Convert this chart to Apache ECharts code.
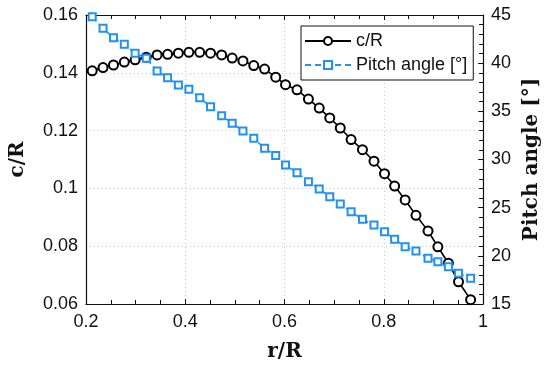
<!DOCTYPE html>
<html>
<head>
<meta charset="utf-8">
<script src="https://cdn.jsdelivr.net/npm/echarts@6/dist/echarts.min.js"></script>
<style>html,body{margin:0;padding:0;background:#fff}#c{width:550px;height:368px}</style>
</head>
<body>
<div id="c"></div>
<script>
const rR = [0.2125, 0.2343, 0.2554, 0.2772, 0.2990, 0.3214, 0.3432, 0.3644, 0.3861, 0.4073,
  0.4291, 0.4509, 0.4733, 0.4945, 0.5162, 0.5380, 0.5598, 0.5822, 0.6020, 0.6251,
  0.6481, 0.6699, 0.6911, 0.7123, 0.7341, 0.7570, 0.7802, 0.8014, 0.8218, 0.8430,
  0.8648, 0.8891, 0.9089, 0.9301, 0.9505, 0.9749];
const cR = [0.1407, 0.1418, 0.1427, 0.1437, 0.1445, 0.1454, 0.1462, 0.1464, 0.1468, 0.1471,
  0.1471, 0.1468, 0.1462, 0.1451, 0.1441, 0.1425, 0.1413, 0.1385, 0.1359, 0.1341,
  0.1309, 0.1278, 0.1244, 0.1209, 0.1169, 0.1134, 0.1094, 0.1051, 0.1008, 0.0960,
  0.0907, 0.0853, 0.0798, 0.0741, 0.0677, 0.0615];
const pitch = [44.82, 43.62, 42.64, 41.96, 41.02, 40.50, 39.19, 38.49, 37.73, 37.29,
  36.41, 35.48, 34.55, 33.76, 32.96, 32.20, 31.16, 30.41, 29.43, 28.63,
  27.70, 26.94, 26.14, 25.38, 24.58, 23.79, 23.20, 22.50, 21.72, 20.95,
  20.50, 19.74, 19.39, 18.87, 18.19, 17.67];
const xTicks = [0.2, 0.4, 0.6, 0.8, 1];
const seriesNames = ['c/R', 'Pitch angle [°]'];

const BLUE = '#2391ee';
const tickFont = {fontFamily: 'Liberation Sans', fontSize: 18, color: '#111'};
const titleFont = {fontFamily: 'DejaVu Serif', fontWeight: 'bold', fontSize: 20, color: '#111'};

const chart = echarts.init(document.getElementById('c'), null, {renderer: 'canvas'});
chart.setOption({
  animation: false,
  backgroundColor: '#fff',
  grid: {left: 83, right: 65, top: 15, bottom: 64},
  legend: {
    orient: 'vertical', left: 301, top: 26,
    backgroundColor: '#fff', borderColor: '#111', borderWidth: 1,
    padding: [6, 6, 6, 3], itemGap: 6, itemWidth: 46, itemHeight: 10,
    textStyle: {fontFamily: 'Liberation Sans', fontSize: 18, color: '#111'},
    data: seriesNames
  },
  xAxis: [{
    type: 'value', min: 0.2, max: 1, interval: 0.2,
    name: 'r/R', nameLocation: 'middle', nameGap: 38, nameTextStyle: titleFont,
    axisLine: {show: true, lineStyle: {color: '#111', width: 1.2}},
    axisTick: {show: true, inside: true, length: 5, lineStyle: {color: '#111'}},
    minorTick: {show: true, splitNumber: 4, length: 4, lineStyle: {color: '#111'}},
    axisLabel: Object.assign({margin: 9, formatter: v => xTicks.includes(+v.toFixed(1)) ? String(+v.toFixed(1)) : ''}, tickFont),
    splitLine: {show: true, lineStyle: {color: '#c8c8c8', type: [1, 3], width: 1}}
  }, {
    type: 'value', min: 0.2, max: 1, interval: 0.2, position: 'top',
    axisLine: {show: true, lineStyle: {color: '#111', width: 1.2}},
    axisTick: {show: true, inside: true, length: 5, lineStyle: {color: '#111'}},
    minorTick: {show: true, splitNumber: 4, length: 4, lineStyle: {color: '#111'}},
    axisLabel: {show: false}, splitLine: {show: false}
  }],
  yAxis: [{
    type: 'value', min: 0.06, max: 0.16, interval: 0.02,
    name: 'c/R', nameLocation: 'middle', nameGap: 58, nameTextStyle: titleFont,
    axisLine: {show: true, lineStyle: {color: '#111', width: 1.2}},
    axisTick: {show: false},
    axisLabel: Object.assign({margin: 8, formatter: v => String(+v.toFixed(2))}, tickFont),
    splitLine: {show: true, lineStyle: {color: '#c8c8c8', type: [1, 3], width: 1}}
  }, {
    type: 'value', min: 15, max: 45, interval: 5, position: 'right',
    name: 'Pitch angle [°]', nameLocation: 'middle', nameGap: 38, nameRotate: 90, nameTextStyle: titleFont,
    axisLine: {show: true, lineStyle: {color: '#111', width: 1.2}},
    axisTick: {show: true, inside: true, length: 5, lineStyle: {color: '#111'}},
    minorTick: {show: true, splitNumber: 5, length: 4, lineStyle: {color: '#111'}},
    axisLabel: Object.assign({margin: 8}, tickFont),
    splitLine: {show: false}
  }],
  series: [{
    name: seriesNames[0], type: 'line', xAxisIndex: 0, yAxisIndex: 0,
    data: rR.map((x, i) => [x, cR[i]]),
    symbol: 'emptyCircle', symbolSize: 9,
    lineStyle: {color: '#000', width: 1.6},
    itemStyle: {color: '#000', borderColor: '#000', borderWidth: 1.6},
    z: 3
  }, {
    name: seriesNames[1], type: 'line', xAxisIndex: 0, yAxisIndex: 1,
    data: rR.map((x, i) => [x, pitch[i]]),
    symbol: 'emptyRect', symbolSize: 7,
    lineStyle: {color: BLUE, width: 1.6, type: [6, 4]},
    itemStyle: {color: BLUE, borderColor: BLUE, borderWidth: 2},
    z: 4
  }]
});
</script>
</body>
</html>
